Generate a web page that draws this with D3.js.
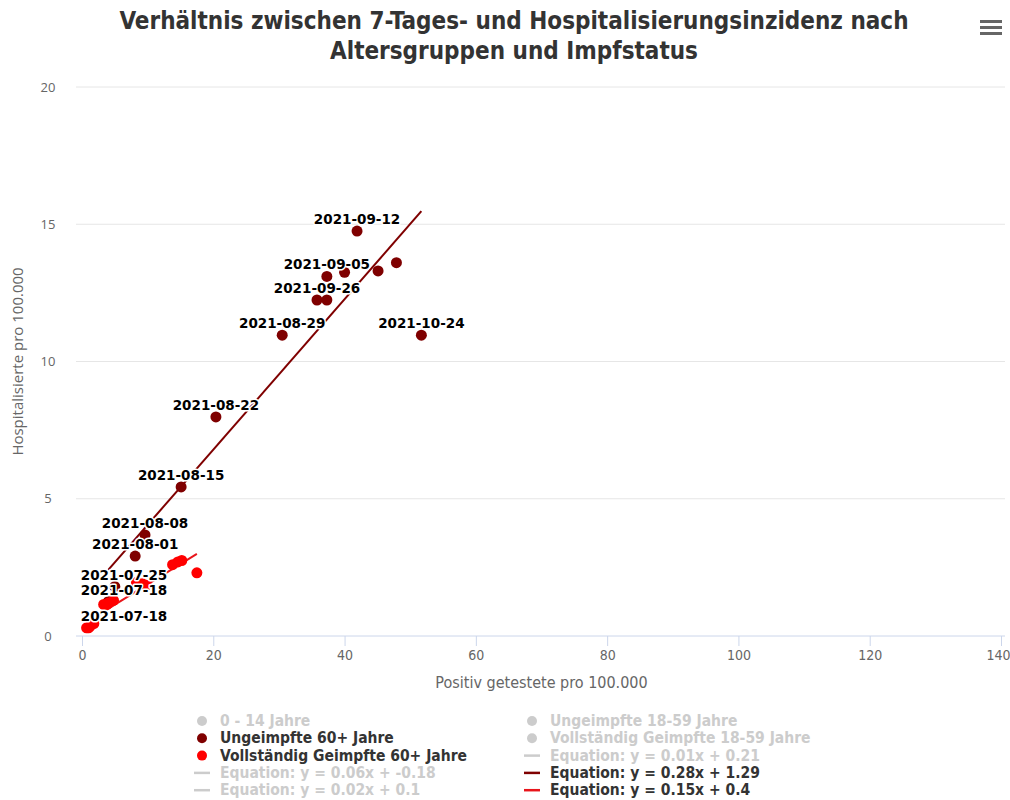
<!DOCTYPE html>
<html>
<head>
<meta charset="utf-8">
<script src="https://cdn.jsdelivr.net/npm/d3@7"></script>
<style>
  body { margin: 0; background: #fff; }
  .narrow { font-family: "DejaVu Sans Condensed", "DejaVu Sans", sans-serif; }
</style>
</head>
<body>
<div id="chart"></div>
<script>
// Data
var dates = ["2021-07-18", "2021-07-25", "2021-08-01", "2021-08-08", "2021-08-15", "2021-08-22", "2021-08-29",
             "2021-09-05", "2021-09-12", "2021-09-19", "2021-09-26", "2021-10-03", "2021-10-10", "2021-10-17", "2021-10-24"];
var ungeimpftX = [4.0, 5.0, 8.1, 9.6, 15.1, 20.4, 30.5, 37.3, 41.9, 47.9, 35.8, 37.3, 40.0, 45.1, 51.7];
var ungeimpftY = [1.25, 1.8, 2.91, 3.68, 5.43, 7.98, 10.96, 13.1, 14.75, 13.6, 12.24, 12.24, 13.25, 13.3, 10.96];
var ungeimpftLabels = [true, true, true, true, true, true, true, true, true, false, true, false, false, false, true];
var geimpftX = [0.7, 1.2, 1.8, 3.3, 4.0, 4.8, 8.3, 9.8, 9.2, 13.8, 14.6, 15.2, 17.5, 3.8, 1.0];
var geimpftY = [0.3, 0.35, 0.45, 1.15, 1.2, 1.3, 1.95, 1.85, 1.9, 2.6, 2.7, 2.75, 2.3, 1.15, 0.3];
var geimpftLabels = [true, false, false, false, false, false, false, false, false, false, false, false, false, false, false];
// trend lines [slope, intercept] as drawn
var trendUngeimpft = [0.274, 1.31];
var trendGeimpft = [0.148, 0.40];

var xTicks = [0, 20, 40, 60, 80, 100, 120, 140];
var yTicks = [0, 5, 10, 15, 20];

var legendLeft = [
  { name: "0 - 14 Jahre", type: "dot", color: "#cccccc", active: false },
  { name: "Ungeimpfte 60+ Jahre", type: "dot", color: "#7f0000", active: true },
  { name: "Vollständig Geimpfte 60+ Jahre", type: "dot", color: "#ff0000", active: true },
  { name: "Equation: y = 0.06x + -0.18", type: "line", color: "#cccccc", active: false },
  { name: "Equation: y = 0.02x + 0.1", type: "line", color: "#cccccc", active: false }
];
var legendRight = [
  { name: "Ungeimpfte 18-59 Jahre", type: "dot", color: "#cccccc", active: false },
  { name: "Vollständig Geimpfte 18-59 Jahre", type: "dot", color: "#cccccc", active: false },
  { name: "Equation: y = 0.01x + 0.21", type: "line", color: "#cccccc", active: false },
  { name: "Equation: y = 0.28x + 1.29", type: "line", color: "#7f0000", active: true },
  { name: "Equation: y = 0.15x + 0.4", type: "line", color: "#e8151b", active: true }
];

var width = 1010, height = 800;
var margin = { top: 87, right: 9, bottom: 164, left: 82 };

var svg = d3.select("#chart").append("svg")
    .attr("width", width)
    .attr("height", height);

var xScale = d3.scaleLinear().domain([0, 140]).range([margin.left, width - margin.right]);
var yScale = d3.scaleLinear().domain([0, 20]).range([height - margin.bottom, margin.top]);

// Title
var title = svg.append("text")
    .attr("class", "narrow")
    .attr("text-anchor", "middle")
    .style("font-size", "24px")
    .style("font-weight", "bold")
    .style("fill", "#333");
title.append("tspan").attr("x", 514).attr("y", 29).text("Verhältnis zwischen 7-Tages- und Hospitalisierungsinzidenz nach");
title.append("tspan").attr("x", 514).attr("y", 59).text("Altersgruppen und Impfstatus");

// hamburger menu
[0, 6, 12].forEach(function(o) {
  svg.append("rect").attr("x", 980).attr("y", 20 + o).attr("width", 22).attr("height", 3).attr("fill", "#666");
});

// Grid lines
svg.append("g")
    .selectAll("line")
    .data(yTicks.slice(1))
    .enter().append("line")
    .attr("x1", margin.left - 6)
    .attr("x2", width - margin.right + 4)
    .attr("y1", d => yScale(d))
    .attr("y2", d => yScale(d))
    .attr("stroke", "#e6e6e6");

// X axis
var xAxis = svg.append("g")
    .attr("transform", "translate(0," + yScale(0) + ")")
    .call(d3.axisBottom(xScale).tickValues(xTicks).tickSize(10).tickPadding(4));
xAxis.select(".domain").attr("stroke", "#ccd6eb").attr("d", "M" + (margin.left - 6) + ",0H" + (width - margin.right + 4));
xAxis.selectAll(".tick line").attr("stroke", "#ccd6eb");
xAxis.selectAll(".tick text").attr("class", "narrow").style("font-size", "14px").style("fill", "#666");
xAxis.selectAll(".tick text").filter(d => d === 140).attr("text-anchor", "end").attr("x", 9);

// Y axis
var yAxis = svg.append("g")
    .attr("transform", "translate(" + (margin.left - 22) + ",0)")
    .call(d3.axisLeft(yScale).tickValues(yTicks).tickSize(0).tickPadding(0));
yAxis.select(".domain").remove();
yAxis.selectAll(".tick text").style("font-family", "Open Sans, sans-serif").style("font-size", "13px").style("fill", "#666").attr("text-anchor", "middle").attr("x", -12);

// Axis titles
svg.append("text")
    .attr("class", "narrow")
    .attr("x", (xScale(0) + xScale(140)) / 2)
    .attr("y", 688)
    .attr("text-anchor", "middle")
    .style("font-size", "16px")
    .style("fill", "#666")
    .text("Positiv getestete pro 100.000");

svg.append("text")
    .attr("transform", "rotate(-90)")
    .attr("x", -(yScale(0) + yScale(20)) / 2)
    .attr("y", 23)
    .attr("text-anchor", "middle")
    .style("font-family", "Open Sans, sans-serif")
    .style("font-size", "15px")
    .style("fill", "#666")
    .text("Hospitalisierte pro 100.000");

// Trend lines
function trend(xs, coef, color) {
  var x0 = d3.min(xs), x1 = d3.max(xs);
  svg.append("line")
      .attr("x1", xScale(x0)).attr("y1", yScale(coef[0] * x0 + coef[1]))
      .attr("x2", xScale(x1)).attr("y2", yScale(coef[0] * x1 + coef[1]))
      .attr("stroke", color)
      .attr("stroke-width", 2);
}
trend(ungeimpftX, trendUngeimpft, "#7f0000");
trend(geimpftX, trendGeimpft, "#e8151b");

// Points
function points(xs, ys, color) {
  svg.append("g").selectAll("circle")
      .data(xs)
      .enter().append("circle")
      .attr("cx", (d, i) => xScale(d))
      .attr("cy", (d, i) => yScale(ys[i]))
      .attr("r", 5.5)
      .attr("fill", color);
}
points(ungeimpftX, ungeimpftY, "#7f0000");
points(geimpftX, geimpftY, "#ff0000");

// Data labels
function labels(xs, ys, show) {
  var g = svg.append("g");
  xs.forEach(function(d, i) {
    if (!show[i]) return;
    var cx = Math.max(xScale(d), margin.left + 42);
    g.append("text")
        .attr("x", cx)
        .attr("y", yScale(ys[i]) - 7)
        .attr("text-anchor", "middle")
        .style("font-family", "DejaVu Sans, sans-serif")
        .style("font-size", "13.5px")
        .style("font-weight", "bold")
        .style("fill", "#000")
        .style("stroke", "#fff")
        .style("stroke-width", 3)
        .style("paint-order", "stroke")
        .style("stroke-linejoin", "round")
        .text(dates[i]);
  });
}
labels(ungeimpftX, ungeimpftY, ungeimpftLabels);
labels(geimpftX, geimpftY, geimpftLabels);

// Legend
function legend(items, x0) {
  var g = svg.append("g").attr("transform", "translate(" + x0 + ",0)");
  items.forEach(function(it, i) {
    var y = 721 + i * 17.3;
    if (it.type === "dot") {
      g.append("circle").attr("cx", 0).attr("cy", y).attr("r", 5).attr("fill", it.color);
    } else {
      g.append("line").attr("x1", -8).attr("x2", 8).attr("y1", y).attr("y2", y)
          .attr("stroke", it.color).attr("stroke-width", 2.5);
    }
    g.append("text")
        .attr("class", "narrow")
        .attr("x", 18)
        .attr("y", y + 5)
        .style("font-size", "15.5px")
        .style("font-weight", "bold")
        .style("fill", it.active ? "#333" : "#cccccc")
        .text(it.name);
  });
}
legend(legendLeft, 202);
legend(legendRight, 532);
</script>
</body>
</html>
